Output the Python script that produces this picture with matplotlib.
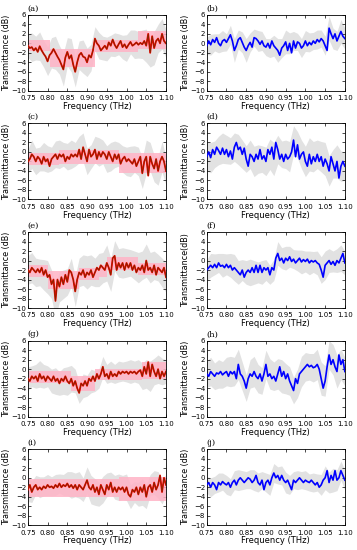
import numpy as np
import matplotlib
matplotlib.use("Agg")
import matplotlib.pyplot as plt

# frekans ekseni (THz)
freq = np.arange(71) * 0.005 + 0.75
freq_band = freq[::2]

# ortalama iletim egrileri (dB), 0.005 THz aralikla
line_a = [-0.5,-1.0,-0.8,-1.5,-1.0,-1.8,-0.6,-1.5,-2.2,-2.8,-3.8,-2.5,-2.0,-1.2,-2.0,-2.8,-3.5,-4.5,-5.5,-3.0,
          -1.8,-3.2,-2.5,-4.5,-6.0,-4.0,-2.5,-2.0,-2.8,-3.0,-4.0,-2.5,-3.0,-1.5,1.0,0.0,-0.5,-1.5,-1.0,-0.5,
          -1.2,0.2,-0.5,0.8,-0.3,-1.0,-0.2,0.5,-0.8,-0.2,-1.0,-0.3,0.3,-0.5,-0.2,0.2,-0.3,0.1,-0.2,0.5,
          -0.5,2.0,-2.0,1.5,-1.0,0.5,1.0,0.0,2.0,0.5,0.0]
line_b = [-0.5,0.5,-0.3,0.8,0.2,1.2,0.0,-0.5,0.5,0.8,0.2,1.0,1.8,0.5,-1.5,-0.5,0.8,1.2,0.2,-0.8,
          -1.5,-0.5,0.2,-0.8,1.2,1.0,0.5,-0.2,0.5,-0.5,-0.8,0.0,-1.0,0.5,-0.5,-1.0,-1.5,-2.5,-1.0,-0.5,
          0.3,-1.5,0.0,-2.0,0.5,-1.0,0.3,0.0,-1.0,-0.5,0.5,-0.5,0.2,-0.3,0.5,0.0,0.8,0.3,1.0,0.5,
          -0.5,-1.5,3.2,2.0,1.0,2.0,0.5,1.5,2.5,1.5,1.0]
line_c = [-2.0,-1.5,-0.5,-1.0,-2.0,-1.0,-1.5,-2.5,-1.0,-2.0,-1.5,-3.0,-1.5,-1.0,-0.5,-1.5,-0.5,-1.0,-0.5,-2.0,
          -1.0,-1.5,-0.5,-1.0,-0.5,-1.0,0.5,-1.5,1.0,-0.5,-2.0,0.5,-1.0,-0.5,0.5,-1.5,0.0,-1.0,0.0,-0.5,
          -1.5,0.0,-1.0,-2.0,-0.5,-1.5,-0.5,-2.5,-1.5,-1.0,-2.0,-1.5,-2.0,-2.5,-1.5,-3.0,-2.0,-1.0,-4.5,-2.0,
          -1.0,-5.0,-1.0,-2.5,-3.5,-1.5,-4.0,-2.0,-1.0,-2.0,-4.0]
line_d = [-1.0,0.0,-1.2,0.5,-0.5,1.0,0.3,-0.5,0.8,-0.5,0.5,-1.0,0.2,-1.5,1.0,2.0,0.5,1.0,-0.5,0.8,
          -1.5,-3.0,-0.5,-1.0,-2.0,-0.5,-1.5,0.5,-1.5,-0.8,-2.0,0.5,-0.5,1.0,-1.5,2.0,0.5,-1.5,-0.5,-2.0,
          -0.5,-1.5,-1.0,0.0,2.5,-1.0,1.5,-1.5,-0.5,0.0,-2.0,-3.0,-0.5,-2.5,-1.0,-2.0,-0.5,-2.0,-1.0,-3.0,
          -1.5,-2.5,-4.0,-1.0,-2.5,-4.0,-2.0,-5.5,-3.0,-2.0,-3.0]
line_e = [-2.0,-2.5,-1.5,-2.0,-2.5,-1.8,-2.5,-1.5,-3.0,-2.0,-3.5,-3.0,-5.0,-4.0,-8.5,-4.0,-5.5,-3.5,-5.0,-3.0,
          -4.5,-2.0,-2.5,-4.0,-6.5,-4.0,-2.5,-3.0,-2.0,-3.5,-2.5,-3.0,-2.0,-3.5,-2.5,-1.5,-2.0,-1.0,-1.5,-2.0,
          -0.5,-1.5,-3.0,0.5,1.0,-2.0,-0.5,-1.5,-0.5,-2.0,-0.5,-1.5,-0.5,-2.0,-1.0,-2.5,-1.5,-2.0,-1.0,-2.5,
          0.0,-2.0,-1.5,-2.5,-1.0,-3.0,-1.5,-2.0,-2.5,-1.5,-3.5]
line_f = [-2.0,-1.5,-1.0,-1.5,-0.8,-1.5,-0.5,-1.2,-1.0,-1.5,-0.8,-1.5,-1.0,-2.0,-1.5,-2.0,-2.5,-3.0,-2.0,-3.5,
          -2.5,-2.0,-2.5,-1.5,-2.5,-1.0,-2.5,-1.0,-2.5,-1.5,-2.0,-1.5,-3.0,-1.5,-2.0,0.5,1.5,0.0,0.5,-0.5,
          0.5,0.0,0.8,-0.2,0.3,-0.5,0.0,0.5,-0.3,0.2,-0.2,0.3,-0.5,0.0,-0.3,0.0,-0.5,-0.8,-2.0,-3.5,
          -1.0,-0.5,0.0,-0.8,-0.2,-1.0,0.0,-0.5,0.5,1.5,-0.5]
line_g = [-2.0,-2.5,-1.5,-2.0,-1.5,-2.5,-1.0,-2.0,-1.5,-2.5,-1.5,-2.0,-2.5,-1.5,-2.5,-2.0,-3.0,-2.0,-2.5,-1.5,
          -2.5,-3.0,-2.0,-3.5,-2.5,-4.0,-5.0,-3.0,-3.5,-2.5,-3.5,-2.0,-2.5,-1.5,-2.5,-1.0,-2.0,-1.0,0.5,-1.5,
          -1.0,-2.0,-0.5,-1.5,-1.0,-1.5,-0.5,-1.0,-0.5,-0.8,-0.5,-1.0,-0.5,-0.8,-0.5,-1.0,-0.5,-0.2,-1.5,0.5,
          -1.0,1.5,-1.5,1.0,-0.5,-1.5,0.0,-2.0,-0.5,-1.5,-0.5]
line_h = [-1.0,-1.5,-0.5,-1.0,-1.5,-0.8,-1.0,-0.5,-1.2,-0.8,-0.5,-1.5,-0.5,-1.0,-0.5,-2.0,1.0,-1.0,-1.5,-2.5,
          -4.0,-2.0,-1.0,-1.5,-0.5,-1.5,-2.0,-1.0,-2.5,-1.0,1.0,-1.5,-1.0,-2.0,-1.5,-2.5,-1.0,0.5,-1.5,-0.5,
          -2.0,-1.0,-2.5,-3.5,-4.5,-2.0,-3.0,-1.0,-0.5,0.0,0.5,1.0,0.5,0.8,0.3,0.5,1.0,0.0,-2.0,-4.0,
          -2.5,0.5,3.0,1.0,2.0,0.5,-0.5,3.0,1.0,2.0,-0.5]
line_i = [-2.5,-1.5,-3.0,-2.0,-1.5,-2.5,-2.0,-2.5,-1.8,-2.2,-1.5,-2.0,-1.8,-2.2,-1.5,-2.0,-1.2,-2.0,-1.5,-1.8,
          -1.2,-2.0,-1.5,-2.2,-1.5,-2.5,-1.5,-2.0,-2.5,-1.5,-0.5,-2.0,-2.5,-1.5,-3.0,-2.0,-3.5,-1.5,-2.5,-3.5,
          -1.5,-2.5,-1.0,-3.0,-2.0,-3.0,-2.0,-2.5,-2.0,-3.0,-2.0,-3.5,-4.0,-2.5,-3.0,-2.0,-3.5,-2.0,-3.0,-1.5,
          -4.0,-2.0,-1.5,-3.0,-1.0,-2.5,-1.5,0.5,-3.0,0.0,-1.5]
line_j = [-1.5,-1.0,-2.0,-1.0,-1.5,-2.5,-1.0,-1.5,-0.8,-1.2,-1.5,-1.0,-2.0,-1.0,-0.5,-1.5,-0.5,0.0,-0.5,-1.0,
          -0.5,0.0,-0.3,-1.0,-0.5,0.5,-1.0,-1.5,-0.5,-2.5,-1.0,-0.5,-1.5,0.0,1.0,0.0,0.5,-0.5,0.5,-0.5,
          -1.0,-0.5,-1.5,-2.5,-0.5,-1.0,-0.5,0.0,-0.5,-1.0,-0.5,-0.8,-1.0,-0.5,-1.0,-1.5,-1.0,-2.0,-1.5,-0.5,
          0.0,1.5,-1.0,0.5,-0.5,1.5,-0.5,0.0,1.5,0.5,-0.5]

# gri bant yari genisligi (dB), 0.01 THz aralikla
spread_a = [2.5,3.0,2.5,3.0,2.8,3.0,3.2,3.5,3.0,3.5,3.0,3.5,3.2,3.0,3.5,3.0,2.8,2.5,
            2.8,2.5,2.5,2.2,2.5,2.2,2.5,2.8,2.5,3.0,2.8,3.0,3.5,3.0,3.5,3.0,3.2,3.0]
spread_b = [1.8,2.2,1.8,2.0,2.2,1.8,2.0,2.5,2.0,2.2,2.5,2.0,1.8,2.2,2.0,1.8,2.0,2.2,
            2.5,2.0,2.5,2.2,2.0,1.8,2.0,2.2,2.0,1.8,2.0,1.8,2.0,2.5,2.2,2.0,2.5,2.2]
spread_c = [2.5,3.0,2.8,2.5,3.0,2.8,2.5,2.8,3.0,2.5,2.8,3.0,2.5,2.8,3.0,2.8,2.5,2.8,
            3.0,2.5,2.8,3.0,2.8,2.5,2.8,3.0,3.2,2.8,3.0,3.2,3.5,3.0,2.8,3.0,3.2,3.0]
spread_d = [3.0,3.2,2.8,3.0,3.2,3.0,2.8,3.0,3.2,3.0,2.8,3.0,3.2,3.0,2.8,3.0,3.2,3.5,
            3.0,2.8,3.0,3.2,3.0,2.8,3.0,3.2,3.5,3.2,3.0,3.2,3.5,3.2,3.0,3.5,3.2,3.0]
spread_e = [3.0,3.2,3.0,2.8,3.2,3.5,3.0,3.5,3.2,3.0,2.8,3.0,3.2,3.0,3.2,3.5,3.2,3.0,
            3.5,3.2,3.8,3.5,3.2,3.0,3.2,3.0,2.8,3.0,3.2,3.0,3.5,3.2,3.0,2.8,3.0,3.2]
spread_f = [2.2,2.5,2.2,2.0,2.5,2.2,2.5,2.8,2.5,2.2,2.5,2.8,2.5,2.2,2.5,2.2,2.0,2.2,
            2.5,2.2,2.5,2.2,2.0,2.2,2.5,2.2,2.5,2.2,2.5,2.8,3.0,2.5,2.2,2.5,2.8,2.5]
spread_g = [2.5,2.2,2.5,2.8,2.5,2.2,2.5,2.8,2.5,2.8,3.0,2.8,2.5,2.2,2.5,2.2,2.5,2.2,
            2.0,2.2,2.0,2.2,2.0,2.2,2.0,2.2,2.5,2.2,2.5,2.8,3.0,3.2,2.8,3.0,2.8,2.5]
spread_h = [2.8,3.0,2.8,3.0,2.8,3.0,3.2,3.0,3.2,3.0,2.8,3.0,3.2,3.0,2.8,3.0,3.2,3.0,
            3.2,3.5,3.2,3.0,2.8,3.0,3.2,3.0,2.8,3.0,3.2,3.5,3.2,3.0,3.2,3.5,3.2,3.0]
spread_i = [2.5,2.2,2.0,2.2,2.0,2.2,2.0,2.2,2.0,2.2,2.5,2.8,2.5,2.8,2.5,2.8,3.0,2.8,
            2.5,2.8,2.5,2.2,2.5,2.8,2.5,2.8,2.5,2.2,2.5,2.8,2.5,2.2,2.5,2.8,2.5,2.2]
spread_j = [1.8,2.0,1.8,2.0,1.8,2.0,1.8,2.0,2.2,2.0,1.8,2.0,2.2,2.0,1.8,2.0,2.2,2.0,
            1.8,2.0,2.2,2.0,1.8,2.0,1.8,2.0,1.8,2.0,1.8,2.2,2.5,2.2,2.5,2.2,2.0,2.2]

# pembe bolgeler (sadece kirmizi paneller): sinirlar, alt ve ust degerler
pink_edges_a = [0.75, 0.805, 0.92, 1.03, 1.10]
pink_lo_a = [-1.6, -5.0, -1.9, -1.2]
pink_hi_a = [0.8, -1.2, 0.8, 2.5]
pink_edges_c = [0.75, 0.83, 0.98, 1.10]
pink_lo_c = [-2.8, -2.5, -4.5]
pink_hi_c = [-0.3, 0.5, -0.3]
pink_edges_e = [0.75, 0.80, 0.88, 0.93, 0.95, 1.03, 1.10]
pink_lo_e = [-3.5, -6.0, -4.0, -3.5, -2.0, -3.0]
pink_hi_e = [-1.0, -2.2, -1.5, -1.0, 0.8, -0.5]
pink_edges_g = [0.75, 0.86, 0.92, 1.04, 1.10]
pink_lo_g = [-3.0, -4.5, -2.2, -2.0]
pink_hi_g = [-0.3, -1.5, 0.0, 1.5]
pink_edges_i = [0.75, 0.98, 1.10]
pink_lo_i = [-4.0, -4.8]
pink_hi_i = [-0.3, 0.2]

panels = [
    ("(a)", line_a, spread_a, (pink_edges_a, pink_lo_a, pink_hi_a), "Transmittance (dB)"),
    ("(b)", line_b, spread_b, None, "Transmittance (dB)"),
    ("(c)", line_c, spread_c, (pink_edges_c, pink_lo_c, pink_hi_c), "Transmittance (dB)"),
    ("(d)", line_d, spread_d, None, "Transmittance (dB)"),
    ("(e)", line_e, spread_e, (pink_edges_e, pink_lo_e, pink_hi_e), "Transmittance (dB)"),
    ("(f)", line_f, spread_f, None, "Transmittance(dB)"),
    ("(g)", line_g, spread_g, (pink_edges_g, pink_lo_g, pink_hi_g), "Transmittance (dB)"),
    ("(h)", line_h, spread_h, None, "Transmittance (dB)"),
    ("(i)", line_i, spread_i, (pink_edges_i, pink_lo_i, pink_hi_i), "Transmittance (dB)"),
    ("(j)", line_j, spread_j, None, "Transmittance (dB)"),
]

fig, axes = plt.subplots(5, 2, figsize=(3.57, 5.5), dpi=100)
plt.subplots_adjust(left=0.078, right=0.966, top=0.973, bottom=0.045, wspace=0.295, hspace=0.43)

for ax, (label, line, spread, pink, ylab) in zip(axes.flat, panels):
    line = np.array(line)
    spread = np.array(spread)
    mid = line[::2]
    ax.fill_between(freq_band, mid - spread, mid + spread, color='#e2e2e2', lw=0, zorder=1)
    if pink is not None:
        edges, lo, hi = pink
        edges = np.array(edges)
        lo = np.array(lo)
        hi = np.array(hi)
        ax.bar(edges[:-1], hi - lo, bottom=lo, width=np.diff(edges), align='edge',
               color='#ffb3c6', alpha=0.85, lw=0, zorder=2)
        ax.plot(freq, line, color='#ff0000', lw=1.3, zorder=3)
        ax.plot(freq, line, color='#7a2a00', lw=0.6, zorder=4)
    else:
        ax.plot(freq, line, color='#0000ff', lw=1.2, zorder=3)

    ax.set_xlim(0.75, 1.10)
    ax.set_ylim(-10, 6)
    ax.set_xticks(np.arange(8) * 0.05 + 0.75)
    ax.set_xticklabels(["0.75", "0.80", "0.85", "0.90", "0.95", "1.00", "1.05", "1.10"])
    ax.set_yticks(range(-10, 7, 2))
    ax.tick_params(direction='in', top=True, right=True, labelsize=5, length=2.5, width=0.5, pad=1.2)
    ax.tick_params(axis='x', pad=3.2)
    for s in ax.spines.values():
        s.set_linewidth(0.6)
    ax.set_xlabel("Frequency (THz)", fontsize=6, labelpad=0.5)
    ax.set_ylabel(ylab, fontsize=5.8, labelpad=0.3)
    ax.text(0.0, 1.03, label, transform=ax.transAxes, fontsize=6, family='serif',
            ha='left', va='bottom')

plt.savefig("out.png", dpi=100)
